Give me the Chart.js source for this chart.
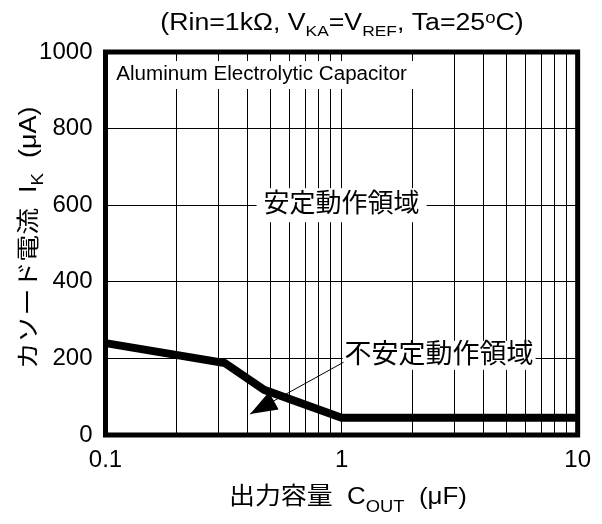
<!DOCTYPE html>
<html><head><meta charset="utf-8">
<script src="https://cdn.jsdelivr.net/npm/chart.js@4.4.1/dist/chart.umd.min.js"></script>
<style>html,body{margin:0;padding:0;background:#fff}canvas{display:block}</style>
</head><body>
<canvas id="c" width="602" height="524"></canvas>
<script>
// ---- data ----
const capacitance = [0.1, 0.32, 0.47, 1, 10];          // µF
const cathodeCurrent = [240, 188, 118, 45, 45];         // µA
const xGridValues = [0.1,0.2,0.3,0.4,0.5,0.6,0.7,0.8,0.9,1,2,3,4,5,6,7,8,9,10];
const xTickLabels = [0.1, 1, 10];
const yTickValues = [0, 200, 400, 600, 800, 1000];

// ---- annotations (in data units) ----
const seriesNote = { text: 'Aluminum Electrolytic Capacitor', x: 0.111, y: 940 };
const stableLabel = { text: '安定動作領域', x: 1, y: 600 };
const unstableLabel = { text: '不安定動作領域', x: 1.03, y: 208 };
const arrowStart = { x: 1.02, y: 190 };
const arrowTip = { x: 0.41, y: 55 };

const FONT = '"Liberation Sans", Arial, "Noto Sans CJK JP", sans-serif';

function setFont(ctx, size){ ctx.font = size + 'px ' + FONT; }
function drawRich(ctx, parts, x, y, o) {
  o = o || {};
  ctx.save();
  ctx.translate(x, y);
  if (o.rotate) ctx.rotate(o.rotate);
  ctx.scale(o.stretch || 1, 1);
  let w = 0;
  parts.forEach(p => { setFont(ctx, p[1]); p.w = ctx.measureText(p[0]).width; w += p.w; });
  let cx = o.align === 'left' ? 0 : -w / 2;
  ctx.fillStyle = '#000';
  ctx.textAlign = 'left';
  ctx.textBaseline = 'alphabetic';
  parts.forEach(p => { setFont(ctx, p[1]); ctx.fillText(p[0], cx, p[2] || 0); cx += p.w; });
  ctx.restore();
}

function labelBox(ctx, text, size, px, py, align, stretch, padX, padY) {
  setFont(ctx, size);
  const w = ctx.measureText(text).width * stretch;
  const left = align === 'left' ? px : px - w / 2;
  ctx.fillStyle = '#fff';
  ctx.fillRect(left - padX, py - size * 0.5 - padY, w + 2 * padX, size + 2 * padY);
  ctx.save();
  ctx.translate(left, py);
  ctx.scale(stretch, 1);
  ctx.fillStyle = '#000';
  ctx.textAlign = 'left';
  ctx.textBaseline = 'middle';
  ctx.fillText(text, 0, 0);
  ctx.restore();
}

const annot = {
  id: 'annot',
  beforeDatasetsDraw(chart) {
    const { ctx, scales: { x, y } } = chart;
    ctx.save();
    labelBox(ctx, seriesNote.text, 20, x.getPixelForValue(seriesNote.x), y.getPixelForValue(seriesNote.y), 'left', 1.03, 8, 4);
    labelBox(ctx, stableLabel.text, 26, x.getPixelForValue(stableLabel.x), y.getPixelForValue(stableLabel.y), 'center', 1.0, 7, 4);
    labelBox(ctx, unstableLabel.text, 27, x.getPixelForValue(unstableLabel.x), y.getPixelForValue(unstableLabel.y), 'left', 1.0, 2, 1);
    const sx = x.getPixelForValue(arrowStart.x), sy = y.getPixelForValue(arrowStart.y);
    const tx = x.getPixelForValue(arrowTip.x), ty = y.getPixelForValue(arrowTip.y);
    ctx.strokeStyle = '#000';
    ctx.lineWidth = 1;
    ctx.beginPath(); ctx.moveTo(sx, sy); ctx.lineTo(tx, ty); ctx.stroke();
    const dx = sx - tx, dy = sy - ty, len = Math.hypot(dx, dy);
    const ux = dx / len, uy = dy / len;
    const L = 27, H = 10;
    const bx = tx + ux * L, by = ty + uy * L;
    ctx.fillStyle = '#000';
    ctx.beginPath();
    ctx.moveTo(tx, ty);
    ctx.lineTo(bx - uy * H, by + ux * H);
    ctx.lineTo(bx + uy * H, by - ux * H);
    ctx.closePath();
    ctx.fill();
    ctx.restore();
  },
  afterDraw(chart) {
    const { ctx, chartArea: a } = chart;
    ctx.save();
    ctx.strokeStyle = '#000';
    ctx.lineWidth = 5;
    ctx.strokeRect(a.left, a.top, a.right - a.left, a.bottom - a.top);
    drawRich(ctx, [
      ['(Rin=1kΩ, V', 23, 0], ['KA', 15, 6], ['=V', 23, 0], ['REF', 15, 6],
      [', Ta=25', 23, 0], ['o', 16, -7], ['C)', 23, 0]
    ], 342, 30, { stretch: 1.16 });
    drawRich(ctx, [
      ['出力容量  C', 24, 0], ['OUT', 17, 8], ['  (μF)', 24, 0]
    ], 348, 504, { stretch: 1.08 });
    drawRich(ctx, [
      ['カソード電流  I', 23, 0], ['K', 16, 7], ['  (μA)', 23, 0]
    ], 36, 238, { stretch: 1.17, rotate: -Math.PI / 2 });
    ctx.restore();
  }
};

new Chart(document.getElementById('c'), {
  type: 'line',
  data: {
    datasets: [{
      data: capacitance.map((c, i) => ({ x: c, y: cathodeCurrent[i] })),
      borderColor: '#000',
      borderWidth: 8,
      pointRadius: 0,
      tension: 0,
      borderJoinStyle: 'miter',
      fill: false
    }]
  },
  options: {
    responsive: false,
    animation: false,
    devicePixelRatio: 1,
    layout: { padding: { top: 52, right: 17.5, left: 0, bottom: 0 } },
    plugins: { legend: { display: false }, tooltip: { enabled: false }, title: { display: false } },
    scales: {
      x: {
        type: 'logarithmic',
        min: 0.1, max: 10,
        afterBuildTicks(s) { s.ticks = xGridValues.map(v => ({ value: v })); },
        afterFit(s) { s.height = 89; },
        grid: { color: '#000', lineWidth: 1, drawTicks: false },
        border: { display: false },
        ticks: {
          autoSkip: false, maxRotation: 0, padding: 11,
          color: '#000', font: { family: FONT, size: 24 },
          callback: (v) => xTickLabels.includes(v) ? String(v) : ''
        }
      },
      y: {
        type: 'linear',
        min: 0, max: 1000,
        afterBuildTicks(s) { s.ticks = yTickValues.map(v => ({ value: v })); },
        afterFit(s) { s.width = 105.5; },
        grid: { color: '#000', lineWidth: 1, drawTicks: false },
        border: { display: false },
        ticks: {
          padding: 13,
          color: '#000', font: { family: FONT, size: 24 },
          callback: (v) => String(v)
        }
      }
    }
  },
  plugins: [annot]
});
</script>
</body></html>
